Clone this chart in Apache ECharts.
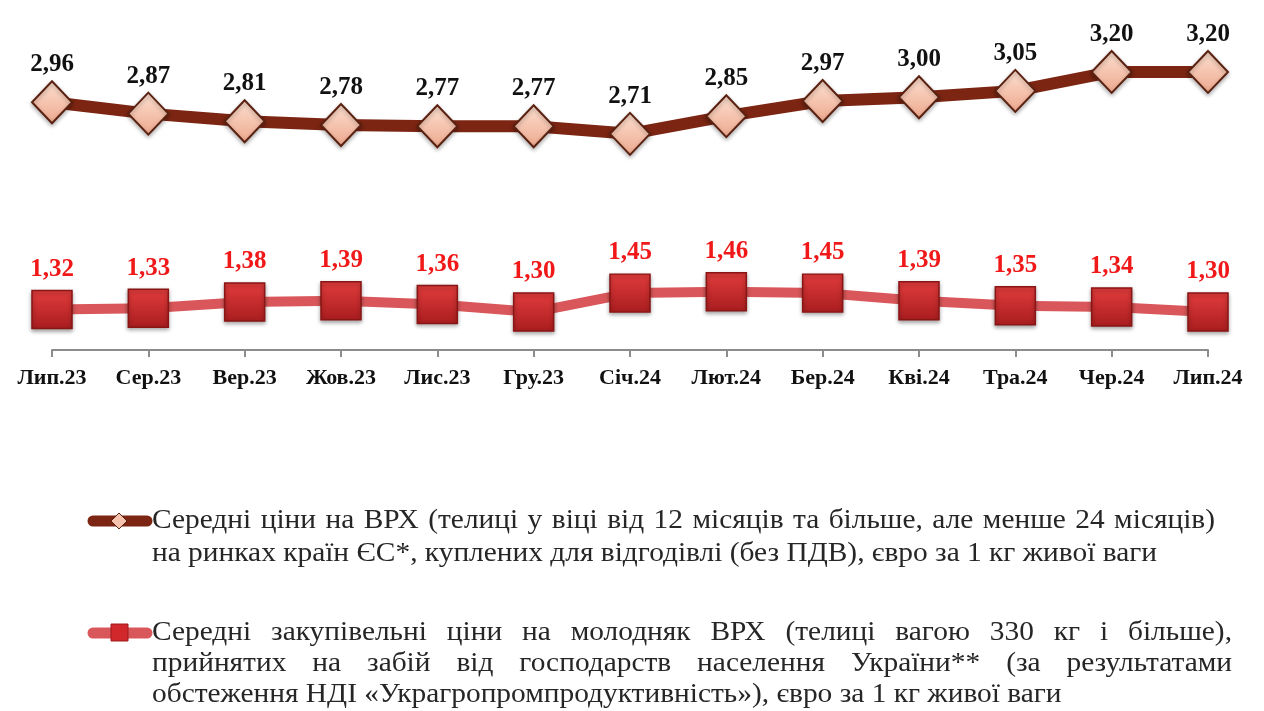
<!DOCTYPE html>
<html>
<head>
<meta charset="utf-8">
<script src="https://cdn.jsdelivr.net/npm/echarts@6/dist/echarts.min.js"></script>
<style>
html, body { margin: 0; padding: 0; background: #fff; }
#main { width: 1264px; height: 711px; }
</style>
</head>
<body>
<div id="main"></div>
<script>
var categories = ['Лип.23', 'Сер.23', 'Вер.23', 'Жов.23', 'Лис.23', 'Гру.23', 'Січ.24', 'Лют.24', 'Бер.24', 'Кві.24', 'Тра.24', 'Чер.24', 'Лип.24'];
var euPrices = [2.96, 2.87, 2.81, 2.78, 2.77, 2.77, 2.71, 2.85, 2.97, 3.00, 3.05, 3.20, 3.20];
var uaPrices = [1.32, 1.33, 1.38, 1.39, 1.36, 1.30, 1.45, 1.46, 1.45, 1.39, 1.35, 1.34, 1.30];

var legendEU = [
    'Середні ціни на ВРХ (телиці у віці від 12 місяців та більше, але менше 24 місяців)',
    'на ринках країн ЄС*, куплених для відгодівлі (без ПДВ), євро за 1 кг живої ваги'
];
var legendUA = [
    'Середні закупівельні ціни на молодняк ВРХ (телиці вагою 330 кг і більше),',
    'прийнятих на забій від господарств населення України** (за результатами',
    'обстеження НДІ «Украгропромпродуктивність»), євро за 1 кг живої ваги'
];

var serif = '"Liberation Serif", "Times New Roman", serif';
var legendFont = '27px ' + serif;

var ctx = document.createElement('canvas').getContext('2d');
ctx.font = legendFont;
// the source text is a bit wider than Liberation Serif, stretch it
var sx = 1005 / ctx.measureText(legendEU[1]).width;

function fmt(p) {
    return p.value.toFixed(2).replace('.', ',');
}

function word(txt, x, y) {
    return {type: 'text', x: x, y: y, scaleX: sx,
        style: {text: txt, font: legendFont, fill: '#262626', verticalAlign: 'middle'}};
}

// justified paragraph, last line left aligned
function paragraph(lines, x0, x1, y0, lh) {
    var els = [];
    for (var i = 0; i < lines.length; i++) {
        var y = y0 + i * lh;
        var words = lines[i].split(' ');
        if (i == lines.length - 1) {
            els.push(word(lines[i], x0, y));
            continue;
        }
        var total = 0;
        for (var j = 0; j < words.length; j++) total += ctx.measureText(words[j]).width * sx;
        var gap = (x1 - x0 - total) / (words.length - 1);
        var x = x0;
        for (var j = 0; j < words.length; j++) {
            els.push(word(words[j], x, y));
            x += ctx.measureText(words[j]).width * sx + gap;
        }
    }
    return els;
}

function legendIcon(y, lineColor, kind) {
    var els = [{type: 'line', shape: {x1: 93, y1: y, x2: 147, y2: y}, style: {stroke: lineColor, lineWidth: 11, lineCap: 'round'}}];
    if (kind == 'diamond') {
        els.push({type: 'polygon', shape: {points: [[119, y - 8], [127, y], [119, y + 8], [111, y]]},
            style: {fill: '#F6C4AE', stroke: '#5A2010', lineWidth: 1}});
    } else {
        els.push({type: 'rect', shape: {x: 111, y: y - 9, width: 17, height: 17},
            style: {fill: '#D0282B', stroke: '#A01B1D', lineWidth: 1}});
    }
    return els;
}

var graphics = []
    .concat(legendIcon(521, '#7B2512', 'diamond'))
    .concat(paragraph(legendEU, 152, 1215, 521, 33))
    .concat(legendIcon(633, '#D9575A', 'square'))
    .concat(paragraph(legendUA, 152, 1232, 633, 31));

var chart = echarts.init(document.getElementById('main'));
chart.setOption({
    animation: false,
    textStyle: {fontFamily: serif},
    grid: {left: 52, right: 56, top: 34, bottom: 361},
    xAxis: {
        type: 'category',
        data: categories,
        boundaryGap: false,
        axisLine: {lineStyle: {color: '#8c8c8c', width: 2}},
        axisTick: {show: true, length: 7, lineStyle: {color: '#8c8c8c', width: 2}},
        axisLabel: {color: '#111', fontSize: 22, fontWeight: 'bold', margin: 17, fontFamily: serif}
    },
    yAxis: {type: 'value', min: 1, max: 3.5, show: false, splitLine: {show: false}},
    series: [
        {
            name: 'EU',
            type: 'line',
            data: euPrices,
            symbol: 'diamond',
            symbolSize: [40, 42],
            lineStyle: {color: '#7B2512', width: 12},
            itemStyle: {
                color: new echarts.graphic.LinearGradient(0, 0, 0, 1, [
                    {offset: 0, color: '#FDE1D2'},
                    {offset: 1, color: '#EDA78C'}
                ]),
                borderColor: '#5A2010',
                borderWidth: 2,
                shadowBlur: 4,
                shadowColor: 'rgba(0,0,0,0.3)',
                shadowOffsetY: 2
            },
            label: {show: true, position: 'top', distance: 3, formatter: fmt, color: '#111', fontSize: 25, fontWeight: 'bold', fontFamily: serif},
            z: 3
        },
        {
            name: 'UA',
            type: 'line',
            data: uaPrices,
            symbol: 'rect',
            symbolSize: [40, 38],
            lineStyle: {color: '#D9575A', width: 10},
            itemStyle: {
                color: new echarts.graphic.LinearGradient(0, 0, 0, 1, [
                    {offset: 0, color: '#E23C3C'},
                    {offset: 1, color: '#A91D1F'}
                ]),
                borderColor: '#8A1515',
                borderWidth: 1.5,
                shadowBlur: 4,
                shadowColor: 'rgba(0,0,0,0.35)',
                shadowOffsetY: 2
            },
            label: {show: true, position: 'top', distance: 8, formatter: fmt, color: '#F01818', fontSize: 25, fontWeight: 'bold', fontFamily: serif},
            z: 2
        }
    ],
    graphic: graphics
});
</script>
</body>
</html>
